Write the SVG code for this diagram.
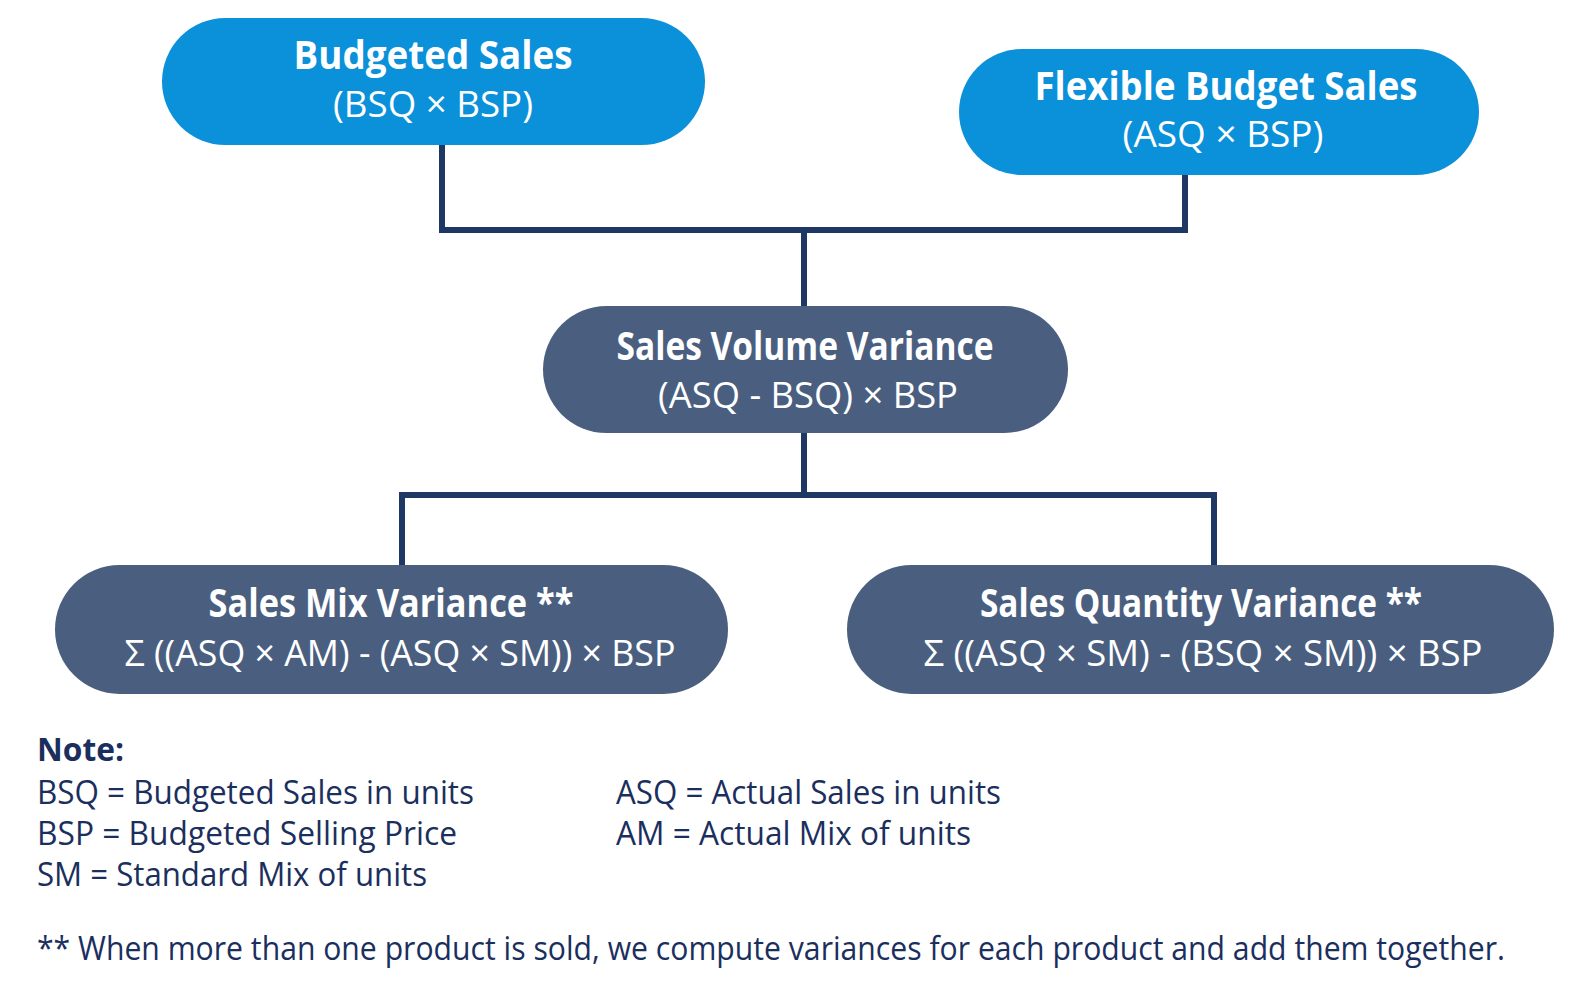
<svg xmlns="http://www.w3.org/2000/svg" width="1588" height="990" viewBox="0 0 1588 990">
<style>
.top{fill:#0b90da}
.var{fill:#4a5f7f}
.t{font-family:"Open Sans","Noto Sans","Liberation Sans",sans-serif;fill:#ffffff;text-anchor:middle}
.b{font-weight:700;font-size:39px}
.r{font-weight:400;font-size:37px}
.n{font-family:"Open Sans","Noto Sans","Liberation Sans",sans-serif;fill:#1b2f5e;font-size:32px}
.conn{fill:none;stroke:#1e3763;stroke-width:6;stroke-linejoin:miter;stroke-linecap:butt}
</style>
<rect width="1588" height="990" fill="#ffffff"/>
<g id="connectors">
<path class="conn" d="M442 145 V230 H1185 V175"/>
<path class="conn" d="M804 230 V306"/>
<path class="conn" d="M804 433 V495 H1214 V565"/>
<path class="conn" d="M402 495 H804"/>
<path class="conn" d="M402 492 V565"/>
</g>
<g id="budgeted-sales">
<rect class="top" x="162" y="18" width="543" height="127" rx="63.5"/>
<text class="t b" x="433" y="69" textLength="279" lengthAdjust="spacingAndGlyphs">Budgeted Sales</text>
<text class="t r" x="433" y="117" textLength="200" lengthAdjust="spacingAndGlyphs">(BSQ × BSP)</text>
</g>
<g id="flexible-budget-sales">
<rect class="top" x="959" y="49" width="520" height="126" rx="63"/>
<text class="t b" x="1226" y="100" textLength="383" lengthAdjust="spacingAndGlyphs">Flexible Budget Sales</text>
<text class="t r" x="1223" y="147" textLength="201" lengthAdjust="spacingAndGlyphs">(ASQ × BSP)</text>
</g>
<g id="sales-volume-variance">
<rect class="var" x="543" y="306" width="525" height="127" rx="63.5"/>
<text class="t b" x="805" y="360" textLength="377" lengthAdjust="spacingAndGlyphs">Sales Volume Variance</text>
<text class="t r" x="808" y="408" textLength="300" lengthAdjust="spacingAndGlyphs">(ASQ - BSQ) × BSP</text>
</g>
<g id="sales-mix-variance">
<rect class="var" x="55" y="565" width="673" height="129" rx="64.5"/>
<text class="t b" x="391" y="617" textLength="365" lengthAdjust="spacingAndGlyphs">Sales Mix Variance **</text>
<text class="t r" x="400" y="666" textLength="551" lengthAdjust="spacingAndGlyphs">Σ ((ASQ × AM) - (ASQ × SM)) × BSP</text>
</g>
<g id="sales-quantity-variance">
<rect class="var" x="847" y="565" width="707" height="129" rx="64.5"/>
<text class="t b" x="1201" y="617" textLength="442" lengthAdjust="spacingAndGlyphs">Sales Quantity Variance **</text>
<text class="t r" x="1203" y="666" textLength="559" lengthAdjust="spacingAndGlyphs">Σ ((ASQ × SM) - (BSQ × SM)) × BSP</text>
</g>
<g id="notes">
<text class="n" x="37" y="761" font-weight="700" font-size="33" textLength="87" lengthAdjust="spacingAndGlyphs">Note:</text>
<text class="n" x="37" y="804" textLength="437" lengthAdjust="spacingAndGlyphs">BSQ = Budgeted Sales in units</text>
<text class="n" x="37" y="845" textLength="420" lengthAdjust="spacingAndGlyphs">BSP = Budgeted Selling Price</text>
<text class="n" x="37" y="886" textLength="390" lengthAdjust="spacingAndGlyphs">SM = Standard Mix of units</text>
<text class="n" x="616" y="804" textLength="385" lengthAdjust="spacingAndGlyphs">ASQ = Actual Sales in units</text>
<text class="n" x="616" y="845" textLength="355" lengthAdjust="spacingAndGlyphs">AM = Actual Mix of units</text>
<text class="n" x="37" y="960" font-size="26.3" textLength="1468" lengthAdjust="spacingAndGlyphs">** When more than one product is sold, we compute variances for each product and add them together.</text>
</g>
</svg>
